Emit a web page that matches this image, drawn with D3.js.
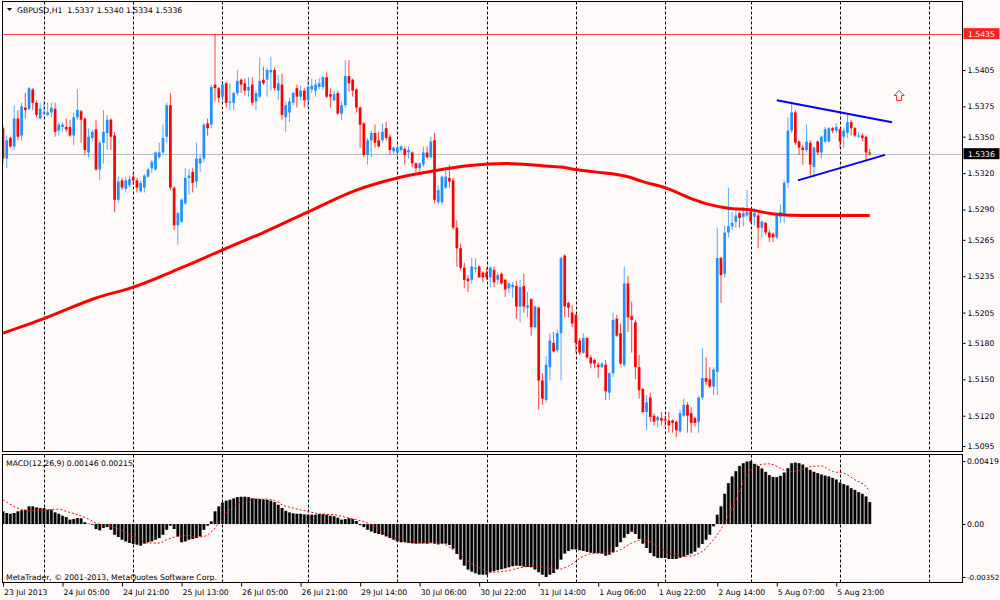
<!DOCTYPE html>
<html><head><meta charset="utf-8">
<script src="https://cdn.jsdelivr.net/npm/d3@7"></script>
<style>
body{margin:0;background:#fffafa}
text{font-family:"DejaVu Sans",sans-serif;font-size:7.7px;fill:#000}
</style>
</head><body>
<svg id="c" width="1000" height="600"></svg>
<script>
// ---------- DATA ----------
const symbolTitle = "GBPUSD,H1  1.5337 1.5340 1.5334 1.5336";
const macdTitle = "MACD(12,26,9) 0.00146 0.00215";
const copyright = "MetaTrader, \u00a9 2001-2013, MetaQuotes Software Corp.";

const open = [1.5357,1.5332,1.5349,1.5342,1.5365,1.5351,1.5374,1.5373,1.5389,1.5378,1.5365,1.5369,1.5368,1.5370,1.5373,1.5355,1.5358,1.5358,1.5358,1.5351,1.5366,1.5371,1.5365,1.5337,1.5349,1.5356,1.5323,1.5345,1.5353,1.5364,1.5351,1.5298,1.5314,1.5307,1.5310,1.5317,1.5314,1.5305,1.5308,1.5317,
1.5324,1.5323,1.5333,1.5337,1.5350,1.5376,1.5308,1.5277,1.5280,1.5295,1.5316,1.5321,1.5313,1.5328,1.5332,1.5361,1.5360,1.5393,1.5390,1.5383,
1.5394,1.5378,1.5378,1.5386,1.5397,1.5394,1.5388,1.5393,1.5379,1.5383,1.5397,1.5397,1.5403,1.5405,1.5388,1.5393,1.5366,1.5370,1.5378,1.5390,
1.5383,1.5388,1.5380,1.5389,1.5388,1.5391,1.5391,1.5399,1.5385,1.5380,1.5386,1.5369,1.5376,1.5400,1.5397,1.5389,1.5374,1.5361,1.5335,1.5347,
1.5353,1.5347,1.5347,1.5357,1.5350,1.5338,1.5337,1.5339,1.5340,1.5337,1.5337,1.5328,1.5324,1.5327,1.5337,1.5333,1.5347,1.5296,1.5296,1.5308,
1.5316,1.5314,1.5275,1.5258,1.5242,1.5233,1.5232,1.5241,1.5243,1.5238,1.5238,1.5234,1.5240,1.5232,1.5237,1.5232,1.5225,1.5226,1.5227,1.5210,
1.5227,1.5209,1.5216,1.5193,1.5209,1.5149,1.5133,1.5160,1.5180,1.5174,1.5188,1.5252,1.5213,1.5205,1.5203,1.5182,1.5172,1.5184,1.5168,1.5166,
1.5162,1.5160,1.5162,1.5139,1.5155,1.5200,1.5188,1.5162,1.5229,1.5202,1.5197,1.5160,1.5142,1.5123,1.5135,1.5120,1.5116,1.5118,1.5117,1.5116,
1.5116,1.5115,1.5107,1.5120,1.5129,1.5122,1.5118,1.5115,1.5135,1.5151,1.5150,1.5144,1.5156,1.5250,1.5237,1.5271,1.5276,1.5280,1.5287,1.5284,
1.5285,1.5288,1.5284,1.5285,1.5275,1.5279,1.5271,1.5270,1.5267,1.5284,1.5287,1.5312,1.5355,1.5370,1.5346,1.5341,1.5339,1.5345,1.5325,1.5346,
1.5337,1.5346,1.5346,1.5357,1.5355,1.5356,1.5350,1.5353,1.5362,1.5357,1.5350,1.5351,1.5350,1.5337];

const high = [1.5359,1.5351,1.5350,1.5376,1.5372,1.5378,1.5386,1.5391,1.5390,1.5380,1.5378,1.5379,1.5378,1.5378,1.5378,1.5362,1.5362,1.5365,1.5364,1.5370,1.5389,1.5372,1.5366,1.5357,1.5356,1.5364,1.5347,1.5372,1.5368,1.5365,1.5354,1.5317,1.5316,1.5317,1.5318,1.5320,1.5316,1.5314,1.5319,1.5324,
1.5331,1.5338,1.5345,1.5360,1.5378,1.5386,1.5309,1.5288,1.5299,1.5324,1.5323,1.5324,1.5345,1.5335,1.5361,1.5365,1.5393,1.5435,1.5391,1.5394,
1.5395,1.5394,1.5387,1.5405,1.5398,1.5398,1.5399,1.5399,1.5388,1.5415,1.5408,1.5407,1.5416,1.5407,1.5401,1.5402,1.5379,1.5382,1.5387,1.5393,
1.5392,1.5390,1.5398,1.5398,1.5397,1.5398,1.5400,1.5403,1.5390,1.5388,1.5388,1.5379,1.5413,1.5413,1.5398,1.5390,1.5375,1.5362,1.5349,1.5355,
1.5360,1.5354,1.5361,1.5362,1.5352,1.5342,1.5342,1.5343,1.5342,1.5342,1.5338,1.5329,1.5329,1.5342,1.5342,1.5350,1.5353,1.5310,1.5318,1.5324,
1.5327,1.5316,1.5281,1.5262,1.5246,1.5236,1.5250,1.5250,1.5244,1.5239,1.5242,1.5243,1.5243,1.5238,1.5238,1.5233,1.5230,1.5230,1.5231,1.5232,
1.5237,1.5222,1.5217,1.5211,1.5210,1.5155,1.5169,1.5188,1.5189,1.5191,1.5251,1.5253,1.5214,1.5211,1.5204,1.5184,1.5188,1.5185,1.5170,1.5167,
1.5164,1.5164,1.5166,1.5156,1.5205,1.5203,1.5196,1.5243,1.5235,1.5214,1.5199,1.5170,1.5143,1.5137,1.5139,1.5122,1.5120,1.5123,1.5120,1.5123,
1.5117,1.5116,1.5125,1.5134,1.5131,1.5127,1.5119,1.5136,1.5176,1.5168,1.5160,1.5160,1.5275,1.5251,1.5277,1.5308,1.5288,1.5290,1.5288,1.5292,
1.5306,1.5291,1.5291,1.5287,1.5281,1.5280,1.5273,1.5271,1.5287,1.5294,1.5314,1.5366,1.5379,1.5372,1.5347,1.5343,1.5360,1.5347,1.5342,1.5347,
1.5351,1.5358,1.5358,1.5358,1.5361,1.5357,1.5357,1.5369,1.5364,1.5358,1.5354,1.5353,1.5351,1.5340];

const low = [1.5328,1.5324,1.5341,1.5339,1.5347,1.5347,1.5365,1.5372,1.5372,1.5366,1.5364,1.5368,1.5367,1.5366,1.5350,1.5351,1.5354,1.5354,1.5350,1.5343,1.5364,1.5345,1.5335,1.5333,1.5346,1.5322,1.5314,1.5328,1.5339,1.5339,1.5288,1.5296,1.5306,1.5304,1.5308,1.5310,1.5304,1.5304,1.5304,1.5316,
1.5320,1.5322,1.5332,1.5336,1.5345,1.5306,1.5273,1.5261,1.5279,1.5294,1.5302,1.5304,1.5308,1.5321,1.5329,1.5351,1.5357,1.5379,1.5378,1.5380,
1.5374,1.5372,1.5372,1.5384,1.5386,1.5384,1.5383,1.5376,1.5372,1.5382,1.5393,1.5383,1.5388,1.5388,1.5380,1.5364,1.5354,1.5362,1.5376,1.5374,
1.5380,1.5374,1.5374,1.5386,1.5383,1.5389,1.5389,1.5382,1.5374,1.5379,1.5368,1.5364,1.5374,1.5387,1.5383,1.5370,1.5341,1.5333,1.5327,1.5333,
1.5341,1.5341,1.5345,1.5347,1.5335,1.5335,1.5333,1.5337,1.5327,1.5332,1.5325,1.5321,1.5321,1.5325,1.5332,1.5332,1.5295,1.5294,1.5294,1.5307,
1.5308,1.5273,1.5243,1.5240,1.5225,1.5222,1.5229,1.5238,1.5234,1.5230,1.5232,1.5226,1.5226,1.5228,1.5228,1.5218,1.5221,1.5217,1.5200,1.5197,
1.5205,1.5201,1.5186,1.5192,1.5125,1.5129,1.5131,1.5149,1.5172,1.5172,1.5149,1.5201,1.5201,1.5193,1.5172,1.5170,1.5171,1.5167,1.5159,1.5159,
1.5151,1.5159,1.5133,1.5133,1.5152,1.5185,1.5162,1.5160,1.5189,1.5172,1.5150,1.5134,1.5122,1.5108,1.5115,1.5112,1.5110,1.5112,1.5111,1.5106,
1.5106,1.5102,1.5106,1.5119,1.5106,1.5106,1.5111,1.5106,1.5133,1.5145,1.5143,1.5137,1.5137,1.5213,1.5234,1.5267,1.5273,1.5275,1.5275,1.5276,
1.5284,1.5279,1.5277,1.5258,1.5267,1.5269,1.5263,1.5263,1.5266,1.5279,1.5279,1.5308,1.5353,1.5343,1.5335,1.5327,1.5337,1.5318,1.5317,1.5335,
1.5332,1.5345,1.5345,1.5353,1.5353,1.5341,1.5341,1.5349,1.5351,1.5350,1.5349,1.5346,1.5331,1.5334];

const close = [1.5332,1.5347,1.5342,1.5365,1.5350,1.5375,1.5372,1.5390,1.5378,1.5368,1.5373,1.5370,1.5370,1.5374,1.5354,1.5360,1.5360,1.5356,1.5351,1.5366,1.5372,1.5364,1.5339,1.5350,1.5354,1.5323,1.5345,1.5354,1.5364,1.5350,1.5298,1.5313,1.5308,1.5314,1.5315,1.5314,1.5308,1.5312,1.5318,1.5323,
1.5329,1.5337,1.5337,1.5349,1.5376,1.5308,1.5277,1.5287,1.5298,1.5316,1.5318,1.5312,1.5332,1.5332,1.5360,1.5357,1.5391,1.5390,1.5382,1.5393,
1.5378,1.5379,1.5386,1.5396,1.5393,1.5388,1.5391,1.5378,1.5386,1.5396,1.5394,1.5405,1.5405,1.5390,1.5394,1.5368,1.5376,1.5379,1.5386,1.5383,
1.5388,1.5380,1.5391,1.5392,1.5393,1.5394,1.5399,1.5383,1.5383,1.5385,1.5369,1.5376,1.5400,1.5394,1.5388,1.5374,1.5360,1.5335,1.5347,1.5353,
1.5345,1.5342,1.5354,1.5349,1.5339,1.5341,1.5341,1.5342,1.5335,1.5339,1.5328,1.5324,1.5328,1.5337,1.5333,1.5346,1.5298,1.5306,1.5317,1.5317,
1.5313,1.5275,1.5258,1.5242,1.5232,1.5231,1.5243,1.5242,1.5234,1.5234,1.5234,1.5242,1.5230,1.5236,1.5229,1.5224,1.5229,1.5228,1.5210,1.5226,
1.5210,1.5211,1.5193,1.5210,1.5149,1.5134,1.5162,1.5182,1.5173,1.5188,1.5250,1.5210,1.5209,1.5196,1.5180,1.5172,1.5184,1.5168,1.5163,1.5163,
1.5160,1.5163,1.5140,1.5155,1.5199,1.5186,1.5163,1.5229,1.5201,1.5199,1.5160,1.5141,1.5123,1.5131,1.5119,1.5115,1.5119,1.5116,1.5116,1.5112,
1.5114,1.5108,1.5122,1.5129,1.5120,1.5114,1.5114,1.5135,1.5151,1.5148,1.5144,1.5158,1.5250,1.5236,1.5271,1.5276,1.5279,1.5285,1.5283,1.5287,
1.5288,1.5280,1.5287,1.5275,1.5280,1.5271,1.5267,1.5267,1.5285,1.5288,1.5312,1.5355,1.5370,1.5345,1.5341,1.5339,1.5346,1.5327,1.5341,1.5337,
1.5350,1.5356,1.5357,1.5355,1.5358,1.5346,1.5355,1.5362,1.5357,1.5351,1.5351,1.5349,1.5337,1.5336];

// moving average read at sample bars
const maBar = [0,11,25,35,48,60,70,82,95,106,116,125,135,145,150,154,159,168,172,178,185,190,195,200,208,215,225,233];
const maVal = [1.5188,1.5200,1.5217,1.5226,1.5242,1.5258,1.5271,1.5288,1.5306,1.5316,1.5322,1.5326,1.5328,1.5326,1.5325,1.5323,1.5321,1.5317,1.5313,1.5308,1.5299,1.5294,1.5291,1.5290,1.5286,1.5285,1.5285,1.5285];

// MACD main line per bar (histogram)
const macd = [0.00084,0.00073,0.00068,0.00073,0.00084,0.00091,0.00095,0.00117,0.00117,0.00110,0.00106,0.00106,0.00095,0.00095,0.00077,0.00068,0.00055,0.00046,0.00029,0.00033,
0.00040,0.00038,0.00011,0.00002,-0.00004,-0.00033,-0.00042,-0.00026,-0.00020,-0.00038,-0.00071,-0.00086,-0.00104,-0.00115,-0.00126,-0.00132,-0.00137,-0.00143,-0.00130,-0.00121,
-0.00115,-0.00104,-0.00093,-0.00071,-0.00038,-0.00011,-0.00033,-0.00082,-0.00121,-0.00115,-0.00104,-0.00099,-0.00093,-0.00082,-0.00038,-0.00011,0.00018,0.00084,0.00117,0.00143,
0.00155,0.00161,0.00170,0.00179,0.00181,0.00181,0.00179,0.00170,0.00168,0.00166,0.00163,0.00161,0.00155,0.00146,0.00128,0.00106,0.00088,0.00077,0.00071,0.00068,
0.00068,0.00064,0.00062,0.00062,0.00062,0.00066,0.00066,0.00062,0.00055,0.00051,0.00042,0.00029,0.00033,0.00038,0.00033,0.00020,-0.00007,-0.00020,-0.00038,-0.00049,
-0.00060,-0.00066,-0.00071,-0.00082,-0.00093,-0.00104,-0.00115,-0.00121,-0.00121,-0.00126,-0.00128,-0.00130,-0.00128,-0.00128,-0.00130,-0.00124,-0.00130,-0.00135,-0.00130,-0.00130,
-0.00139,-0.00163,-0.00199,-0.00236,-0.00276,-0.00302,-0.00316,-0.00327,-0.00336,-0.00336,-0.00336,-0.00320,-0.00313,-0.00307,-0.00300,-0.00294,-0.00287,-0.00280,-0.00276,-0.00278,
-0.00283,-0.00285,-0.00287,-0.00302,-0.00320,-0.00336,-0.00352,-0.00336,-0.00325,-0.00298,-0.00236,-0.00196,-0.00179,-0.00168,-0.00168,-0.00174,-0.00179,-0.00185,-0.00190,-0.00194,
-0.00194,-0.00196,-0.00210,-0.00203,-0.00185,-0.00152,-0.00121,-0.00091,-0.00066,-0.00051,-0.00066,-0.00099,-0.00130,-0.00159,-0.00192,-0.00214,-0.00225,-0.00225,-0.00225,-0.00232,
-0.00232,-0.00232,-0.00223,-0.00216,-0.00205,-0.00196,-0.00183,-0.00157,-0.00132,-0.00104,-0.00071,-0.00015,0.00062,0.00117,0.00201,0.00272,0.00316,0.00351,0.00386,0.00404,
0.00415,0.00419,0.00400,0.00386,0.00369,0.00347,0.00325,0.00313,0.00311,0.00320,0.00342,0.00371,0.00404,0.00408,0.00404,0.00395,0.00375,0.00360,0.00347,0.00338,
0.00329,0.00322,0.00316,0.00307,0.00296,0.00276,0.00265,0.00256,0.00238,0.00227,0.00212,0.00201,0.00183,0.00146];

// MACD signal line read at sample bars
const sigBar = [0,3,6,8,12,15,17,20,23,25,28,31,34,36,39,42,44,47,50,52,54,57,59,62,65,67,70,73,75,78,82,85,89,93,95,98,101,103,106,109,112,116,118,121,125,128,131,135,139,142,146,149,152,156,160,163,166,169,172,176,180,184,188,191,194,197,200,203,206,209,211,214,217,220,223,226,229,232,233];
const sigVal = [0.00161,0.00117,0.00091,0.00088,0.00095,0.00099,0.00084,0.00062,0.00033,0.00007,-0.00011,-0.00033,-0.00071,-0.00099,-0.00126,-0.00126,-0.00104,-0.00082,-0.00077,-0.00086,-0.00082,-0.00026,0.00046,0.00117,0.00157,0.00166,0.00166,0.00157,0.00128,0.00106,0.00084,0.00068,0.00062,0.00040,0.00029,0.00007,-0.00033,-0.00071,-0.00099,-0.00115,-0.00126,-0.00126,-0.00130,-0.00170,-0.00247,-0.00291,-0.00320,-0.00313,-0.00291,-0.00280,-0.00291,-0.00302,-0.00280,-0.00214,-0.00192,-0.00192,-0.00170,-0.00126,-0.00104,-0.00148,-0.00203,-0.00214,-0.00181,-0.00104,0.00007,0.00161,0.00327,0.00393,0.00400,0.00371,0.00349,0.00355,0.00382,0.00386,0.00349,0.00338,0.00294,0.00249,0.00215];

// Axes
const priceTicks = [1.5405,1.5375,1.5350,1.5320,1.5290,1.5265,1.5235,1.5205,1.5180,1.5150,1.5120,1.5095];
const macdTicks = [0.00419,0,-0.00352];
const macdTickLabels = ["0.00419","0.00","-0.00352"];
const dateBar = [0,16,32,48,64,80,96,112,128,144,160,176,192,208,224];
const dateLabels = ["23 Jul 2013","24 Jul 05:00","24 Jul 21:00","25 Jul 13:00","26 Jul 05:00","26 Jul 21:00","29 Jul 14:00","30 Jul 06:00","30 Jul 22:00","31 Jul 14:00","1 Aug 06:00","1 Aug 22:00","2 Aug 14:00","5 Aug 07:00","5 Aug 23:00"];
const dayStartBar = [11,35,59,82,106,130,154,178,201,225,249];

// Objects
const hLinePrice = 1.5435;
const bidPrice = 1.5336;
const trendUpper = [[208,1.5380],[239,1.5362]];
const trendLower = [[213.7,1.5314],[237.1,1.5335]];
const arrowAt = [240.9,1.5384];

// ---------- DRAW ----------
const svg = d3.select('#c');
const Lx = 2.5, Rx = 962.5, Ty = 1.5, MBy = 451.5, MTy = 454.5, BBy = 582.5;
const x = d3.scaleLinear().domain([0,250]).range([3,933]);
const y = d3.scaleLinear().domain([1.5095,1.5405]).range([446,70]);
const ym = d3.scaleLinear().domain([-0.00352,0.00419]).range([577,461]);
const BULL = '#1e90ff', BEAR = '#ff0000';
const FS = '7.7px';

svg.append('rect').attr('width',1000).attr('height',600).attr('fill','#fffafa');

const defs = svg.append('defs');
defs.append('clipPath').attr('id','cm').append('rect').attr('x',Lx).attr('y',Ty).attr('width',Rx-Lx).attr('height',MBy-Ty);
defs.append('clipPath').attr('id','cd').append('rect').attr('x',Lx).attr('y',MTy).attr('width',Rx-Lx).attr('height',BBy-MTy);

const gm = svg.append('g').attr('clip-path','url(#cm)');
const gd = svg.append('g').attr('clip-path','url(#cd)');

// grid (day separators)
[[gm,Ty,MBy],[gd,MTy,BBy]].forEach(([g,a,b])=>{
  g.selectAll(null).data(dayStartBar).enter().append('line')
   .attr('x1',d=>Math.round(x(d))+0.5).attr('x2',d=>Math.round(x(d))+0.5)
   .attr('y1',a).attr('y2',b).attr('stroke','#000').attr('stroke-width',1)
   .attr('stroke-dasharray','3,2');
});

// horizontal line & bid line
gm.append('line').attr('x1',Lx).attr('x2',Rx).attr('y1',Math.round(y(hLinePrice))+0.5).attr('y2',Math.round(y(hLinePrice))+0.5)
  .attr('stroke','#ff4444').attr('stroke-width',1);
gm.append('line').attr('x1',Lx).attr('x2',Rx).attr('y1',Math.round(y(bidPrice))+0.5).attr('y2',Math.round(y(bidPrice))+0.5)
  .attr('stroke','#bdbdbd').attr('stroke-width',1);

// candles
const bars = d3.range(open.length);
const cg = gm.append('g');
cg.selectAll('line.w').data(bars).enter().append('line').attr('class','w')
  .attr('x1',i=>x(i)).attr('x2',i=>x(i)).attr('y1',i=>y(high[i])).attr('y2',i=>y(low[i]))
  .attr('stroke',i=>close[i]>=open[i]?BULL:BEAR).attr('stroke-width',1).attr('stroke-opacity',0.75);
cg.selectAll('rect.b').data(bars).enter().append('rect').attr('class','b')
  .attr('x',i=>x(i)-1.35).attr('width',2.7)
  .attr('y',i=>Math.min(y(open[i]),y(close[i])))
  .attr('height',i=>Math.max(1,Math.abs(y(open[i])-y(close[i]))))
  .attr('fill',i=>close[i]>=open[i]?BULL:BEAR);

// moving average
gm.append('path').datum(maBar.map((b,k)=>[b,maVal[k]]))
  .attr('d',d3.line().x(d=>x(d[0])).y(d=>y(d[1])).curve(d3.curveMonotoneX))
  .attr('fill','none').attr('stroke','#ff0000').attr('stroke-width',3);

// trendlines
[trendUpper,trendLower].forEach(t=>{
  gm.append('line').attr('x1',x(t[0][0])).attr('y1',y(t[0][1])).attr('x2',x(t[1][0])).attr('y2',y(t[1][1]))
    .attr('stroke','#0000ff').attr('stroke-width',2);
});

// arrow object
{
  const ax = x(arrowAt[0]), ay = y(arrowAt[1]);
  gm.append('path').attr('transform',`translate(${ax},${ay})`)
    .attr('d','M0,-5 L5,0 L2.5,0 L2.5,5 L-2.5,5 L-2.5,0 L-5,0 Z')
    .attr('fill','#fffafa').attr('stroke','#ff2020').attr('stroke-width',1);
}

// MACD histogram
const zy = ym(0);
gd.selectAll('rect.hg').data(bars).enter().append('rect').attr('class','hg')
  .attr('x',i=>x(i)-1.86).attr('width',3.72)
  .attr('y',i=>Math.min(zy,ym(macd[i]))).attr('height',i=>Math.abs(ym(macd[i])-zy))
  .attr('fill','#9c9c9c');
gd.selectAll('rect.hb').data(bars).enter().append('rect').attr('class','hb')
  .attr('x',i=>x(i)-1.2).attr('width',2.4)
  .attr('y',i=>Math.min(zy,ym(macd[i]))).attr('height',i=>Math.abs(ym(macd[i])-zy))
  .attr('fill','#000');
gd.append('path').datum(sigBar.map((b,k)=>[b,sigVal[k]]))
  .attr('d',d3.line().x(d=>x(d[0])).y(d=>ym(d[1])).curve(d3.curveMonotoneX))
  .attr('fill','none').attr('stroke','#ff0000').attr('stroke-width',1).attr('stroke-dasharray','2,2');

// frames
const fr = svg.append('g').attr('fill','none').attr('stroke','#000').attr('stroke-width',1);
fr.append('rect').attr('x',Lx).attr('y',Ty).attr('width',Rx-Lx).attr('height',MBy-Ty);
fr.append('rect').attr('x',Lx).attr('y',MTy).attr('width',Rx-Lx).attr('height',BBy-MTy);

// right price axis
const pa = svg.append('g').attr('transform',`translate(${Rx},0)`)
  .call(d3.axisRight(y).tickValues(priceTicks).tickFormat(d3.format('.4f')).tickSize(3).tickPadding(2));
pa.select('.domain').remove();
pa.selectAll('text').style('font-family','"DejaVu Sans",sans-serif').style('font-size',FS).attr('fill','#000');
pa.selectAll('line').attr('stroke','#000');

// price label boxes
[[hLinePrice,'#ff2020','#fff'],[bidPrice,'#000','#fff']].forEach(([p,bg,fg])=>{
  const yy = y(p);
  svg.append('rect').attr('x',Rx+1).attr('y',yy-5.5).attr('width',36).attr('height',11).attr('fill',bg);
  svg.append('text').attr('x',Rx+5.5).attr('y',yy+3).style('fill',fg).text(d3.format('.4f')(p));
});

// MACD axis
const ma = svg.append('g').attr('transform',`translate(${Rx},0)`)
  .call(d3.axisRight(ym).tickValues(macdTicks).tickFormat((d,k)=>macdTickLabels[k]).tickSize(3).tickPadding(1.5));
ma.select('.domain').remove();
ma.selectAll('text').style('font-family','"DejaVu Sans",sans-serif').style('font-size',FS).attr('fill','#000');
ma.selectAll('text').filter((d,k)=>k===2).style('font-size','7.2px');
ma.selectAll('line').attr('stroke','#000');

// date axis
const da = svg.append('g').attr('transform',`translate(0,${BBy})`)
  .call(d3.axisBottom(x).tickValues(dateBar).tickFormat((d,k)=>dateLabels[k]).tickSize(4).tickPadding(2));
da.select('.domain').remove();
da.selectAll('text').attr('text-anchor','start').attr('dx','0.5').attr('dy','0.9em')
  .style('font-family','"DejaVu Sans",sans-serif').style('font-size',FS).attr('fill','#000');
da.selectAll('line').attr('stroke','#000');

// titles
svg.append('path').attr('d','M7,8 L12,8 L9.5,11 Z').attr('fill','#000');
svg.append('text').attr('x',17).attr('y',13).text(symbolTitle).style('white-space','pre');
svg.append('text').attr('x',6).attr('y',466).text(macdTitle);
svg.append('text').attr('x',6).attr('y',580).text(copyright);
</script>
</body></html>
